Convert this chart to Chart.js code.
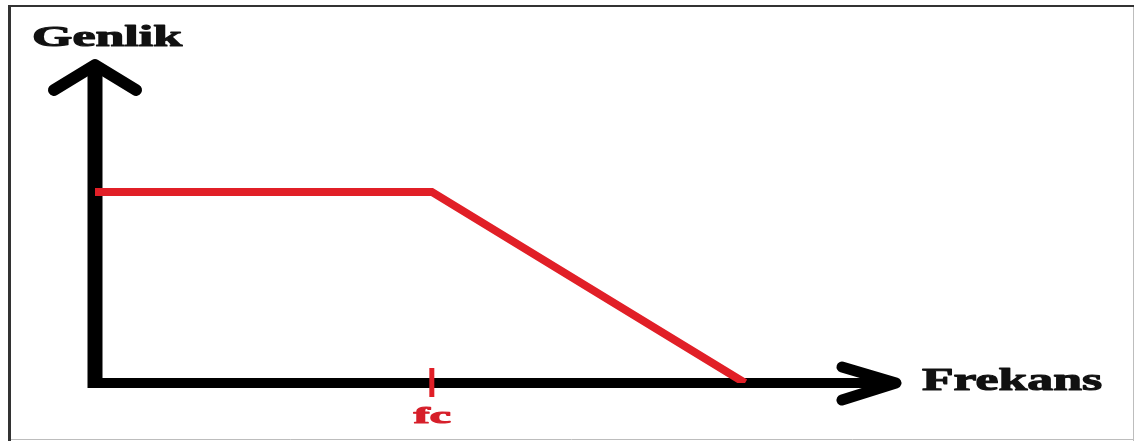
<!DOCTYPE html>
<html>
<head>
<meta charset="utf-8">
<title>Genlik - Frekans</title>
<script src="https://cdn.jsdelivr.net/npm/chart.js@4.4.1/dist/chart.umd.min.js"></script>
<style>
  html, body { margin: 0; padding: 0; background: #fff; }
  canvas { display: block; }
</style>
</head>
<body>
<canvas id="chart" width="1135" height="441"></canvas>
<script>
// data (normalised: fc = 1, passband gain = 1)
const frequency = [0, 1, 1.93];
const amplitude = [1, 1, 0];
const fcValue = 1;
const xMax = 2.39;
const yMax = 1.68;
const xLabel = "Frekans";
const yLabel = "Genlik";
const fcLabel = "fc";

const red = "#e11f27";

// text in the picture is stretched wide, so draw it scaled to a target width
function drawStretched(ctx, text, left, baseline, size, width, color) {
    ctx.save();
    ctx.font = "bold " + size + "px 'Liberation Serif', 'DejaVu Serif', serif";
    ctx.fillStyle = color;
    ctx.strokeStyle = color;
    ctx.lineWidth = 1.1;
    ctx.lineJoin = "round";
    ctx.textBaseline = "alphabetic";
    ctx.textAlign = "left";
    const w = ctx.measureText(text).width;
    ctx.translate(left, baseline);
    ctx.scale(width / w, 1);
    ctx.fillText(text, 0, 0);
    ctx.strokeText(text, 0, 0);
    ctx.restore();
}

// frame, axes with arrows
const axesPlugin = {
    id: "axesPlugin",
    beforeDatasetsDraw(chart) {
        const ctx = chart.ctx;
        const xs = chart.scales.x, ys = chart.scales.y;
        const ox = xs.getPixelForValue(0), oy = ys.getPixelForValue(0);
        const top = ys.getPixelForValue(yMax), right = xs.getPixelForValue(xMax);

        ctx.save();
        // picture frame
        ctx.strokeStyle = "#bdbdbd";
        ctx.lineWidth = 1;
        ctx.beginPath();
        ctx.moveTo(1133.5, 6); ctx.lineTo(1133.5, 441);
        ctx.moveTo(9, 439.5); ctx.lineTo(1134, 439.5);
        ctx.stroke();
        ctx.strokeStyle = "#333";
        ctx.lineWidth = 2;
        ctx.beginPath();
        ctx.moveTo(8, 6); ctx.lineTo(1134, 6);
        ctx.stroke();
        ctx.lineWidth = 3;
        ctx.beginPath();
        ctx.moveTo(9.5, 5); ctx.lineTo(9.5, 441);
        ctx.stroke();

        ctx.strokeStyle = "#000";
        ctx.lineJoin = "round";
        // y axis
        ctx.lineCap = "butt";
        ctx.lineWidth = 15;
        ctx.beginPath();
        ctx.moveTo(ox, top + 4); ctx.lineTo(ox, oy + 5);
        ctx.stroke();
        // x axis
        ctx.lineWidth = 10;
        ctx.beginPath();
        ctx.moveTo(ox - 7, oy); ctx.lineTo(right - 4, oy);
        ctx.stroke();
        // arrow heads
        ctx.lineCap = "round";
        ctx.lineWidth = 12;
        ctx.beginPath();
        ctx.moveTo(ox - 41, top + 28); ctx.lineTo(ox, top + 3); ctx.lineTo(ox + 41, top + 28);
        ctx.stroke();
        ctx.lineWidth = 11;
        ctx.beginPath();
        ctx.moveTo(right - 58, oy - 16); ctx.lineTo(right - 4, oy); ctx.lineTo(right - 58, oy + 17);
        ctx.stroke();
        ctx.restore();
    },
    afterDatasetsDraw(chart) {
        const ctx = chart.ctx;
        const xs = chart.scales.x, ys = chart.scales.y;
        const oy = ys.getPixelForValue(0);
        const fx = xs.getPixelForValue(fcValue);

        ctx.save();
        // fc tick
        ctx.strokeStyle = red;
        ctx.lineWidth = 5;
        ctx.beginPath();
        ctx.moveTo(fx, oy - 15); ctx.lineTo(fx, oy + 14);
        ctx.stroke();
        ctx.restore();

        drawStretched(ctx, yLabel, 32, 46, 30, 150, "#111");
        drawStretched(ctx, xLabel, 922, 390, 31, 180, "#111");
        drawStretched(ctx, fcLabel, fx - 18, 423, 23, 37, "#d61f2a");
    }
};

const ctx = document.getElementById("chart").getContext("2d");
new Chart(ctx, {
    type: "line",
    data: {
        datasets: [{
            data: frequency.map((f, i) => ({ x: f, y: amplitude[i] })),
            borderColor: red,
            borderWidth: 8,
            borderCapStyle: "butt",
            borderJoinStyle: "miter",
            tension: 0,
            pointRadius: 0,
            fill: false
        }]
    },
    options: {
        responsive: false,
        animation: false,
        layout: { padding: { left: 95, right: 235, top: 62, bottom: 58 } },
        scales: {
            x: { type: "linear", min: 0, max: xMax, display: false },
            y: { type: "linear", min: 0, max: yMax, display: false }
        },
        plugins: {
            legend: { display: false },
            tooltip: { enabled: false }
        }
    },
    plugins: [axesPlugin]
});
</script>
</body>
</html>
